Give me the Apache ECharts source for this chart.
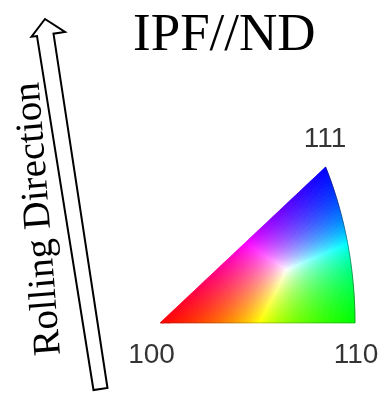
<!DOCTYPE html>
<html>
<head>
<meta charset="utf-8">
<script src="https://cdn.jsdelivr.net/npm/echarts@6/dist/echarts.min.js"></script>
<style>
html,body{margin:0;padding:0;background:#fff;}
#chart{width:382px;height:405px;}
</style>
</head>
<body>
<div id="chart"></div>
<script>
// ---- data ----
const titleText = 'IPF//ND';
const sideCaption = 'Rolling Direction';
const cornerLabels = ['100', '110', '111'];
const cornerDirections = [[1, 0, 0], [1, 1, 0], [1, 1, 1]];

// ---- equal-area projection of the standard stereographic triangle ----
function project(d) {
  const n = Math.hypot(d[0], d[1], d[2]);
  const h = d[0] / n, k = d[1] / n, l = d[2] / n;
  const r = Math.sqrt(Math.max(0, 1 - h));
  const phi = Math.atan2(l, k);
  return [r * Math.cos(phi), r * Math.sin(phi)];
}
function unproject(u, v) {
  const r2 = u * u + v * v;
  const c = 1 - r2;
  const s = Math.sqrt(Math.max(0, 1 - c * c));
  const phi = Math.atan2(v, u);
  return [c, s * Math.cos(phi), s * Math.sin(phi)];
}
function ipfColor(u, v) {
  const d = unproject(u, v);
  let R = Math.max(0, d[0] - d[1]);
  let G = Math.max(0, (d[1] - d[2]) * Math.SQRT2);
  let B = Math.max(0, d[2] * Math.sqrt(3));
  const m = Math.max(R, G, B) || 1;
  R = Math.round(255 * R / m); G = Math.round(255 * G / m); B = Math.round(255 * B / m);
  return 'rgb(' + R + ',' + G + ',' + B + ')';
}
// u on the {110}-{111} arc for a given v (h == k)
function arcU(v) {
  let lo = v, hi = 0.6;
  for (let i = 0; i < 50; i++) {
    const mid = (lo + hi) / 2;
    const d = unproject(mid, v);
    if (d[0] >= d[1]) lo = mid; else hi = mid;
  }
  return lo;
}

const cornerPts = cornerDirections.map(project);
const vApex = cornerPts[2][1];

// colour-key cells: rows bounded by the hypotenuse and the arc
const DU = 1.2 / 360.4, DV = 1 / 339.4;
const cells = [];
const nRows = Math.ceil(vApex / DV);
for (let i = 0; i < nRows; i++) {
  const v0 = i * DV, v1 = Math.min((i + 1) * DV, vApex);
  const l0 = v0, l1 = v1, r0 = arcU(v0), r1 = Math.max(arcU(v1), v1);
  const n = Math.max(1, Math.ceil(Math.max(r0 - l0, r1 - l1) / DU));
  for (let j = 0; j < n; j++) {
    const ta = j / n, tb = (j + 1) / n;
    cells.push([
      l0 + ta * (r0 - l0), l0 + tb * (r0 - l0),
      l1 + ta * (r1 - l1), l1 + tb * (r1 - l1),
      v0, v1
    ]);
  }
}
// arc outline points
const arcLine = [];
for (let i = 0; i <= 60; i++) {
  const v = vApex * i / 60;
  arcLine.push([arcU(v), v]);
}

const labelOffsets = [[-8.5, 32], [1, 32], [-0.7, -28]];

const chart = echarts.init(document.getElementById('chart'), null, {renderer: 'canvas'});
chart.setOption({
  animation: false,
  backgroundColor: '#ffffff',
  grid: {left: 160, width: 216.2, bottom: 82, height: 169.7, containLabel: false, show: false},
  xAxis: {type: 'value', min: 0, max: 0.6, show: false},
  yAxis: {type: 'value', min: 0, max: 0.5, show: false},
  series: [
    {
      type: 'custom',
      silent: true,
      data: cells,
      renderItem: function (params, api) {
        const a = api.value(0), b = api.value(1), c = api.value(2), d = api.value(3);
        const v0 = api.value(4), v1 = api.value(5);
        const col = ipfColor((a + b + c + d) / 4, (v0 + v1) / 2);
        return {
          type: 'polygon',
          shape: {points: [api.coord([a, v0]), api.coord([b, v0]), api.coord([d, v1]), api.coord([c, v1])]},
          style: {fill: col, stroke: col, lineWidth: 0.6}
        };
      }
    },
    {
      type: 'line',
      silent: true,
      data: arcLine,
      symbol: 'none',
      lineStyle: {color: 'rgba(40,40,40,0.45)', width: 1}
    },
    {
      type: 'line',
      silent: true,
      data: [cornerPts[0], cornerPts[1]],
      symbol: 'none',
      lineStyle: {color: 'rgba(40,40,40,0.35)', width: 1}
    },
    {
      type: 'scatter',
      symbolSize: 0,
      silent: true,
      data: cornerPts.map((p, i) => ({
        value: p,
        name: cornerLabels[i],
        label: {offset: labelOffsets[i]}
      })),
      label: {
        show: true,
        position: 'inside',
        formatter: '{b}',
        fontFamily: 'Liberation Sans, Arial, sans-serif',
        fontSize: 28,
        color: '#000',
        textBorderWidth: 0,
        align: 'center',
        verticalAlign: 'middle'
      }
    }
  ],
  graphic: [
    {
      type: 'text',
      left: 133, top: 10,
      style: {
        text: titleText,
        font: '53px "Liberation Serif", "Times New Roman", serif',
        fill: '#000'
      }
    },
    {
      type: 'text',
      x: 39, y: 219,
      rotation: Math.PI / 2 + 0.078,
      style: {
        text: sideCaption,
        font: '39px "Liberation Serif", "Times New Roman", serif',
        fill: '#000',
        align: 'center',
        verticalAlign: 'middle'
      }
    },
    {
      type: 'polygon',
      shape: {
        points: [[45, 19], [65, 32], [53.5, 33.7], [107.5, 388], [93.5, 390], [37, 36], [31.5, 36.7]]
      },
      style: {fill: '#fff', stroke: '#000', lineWidth: 2, lineJoin: 'miter'}
    }
  ]
});
</script>
</body>
</html>
